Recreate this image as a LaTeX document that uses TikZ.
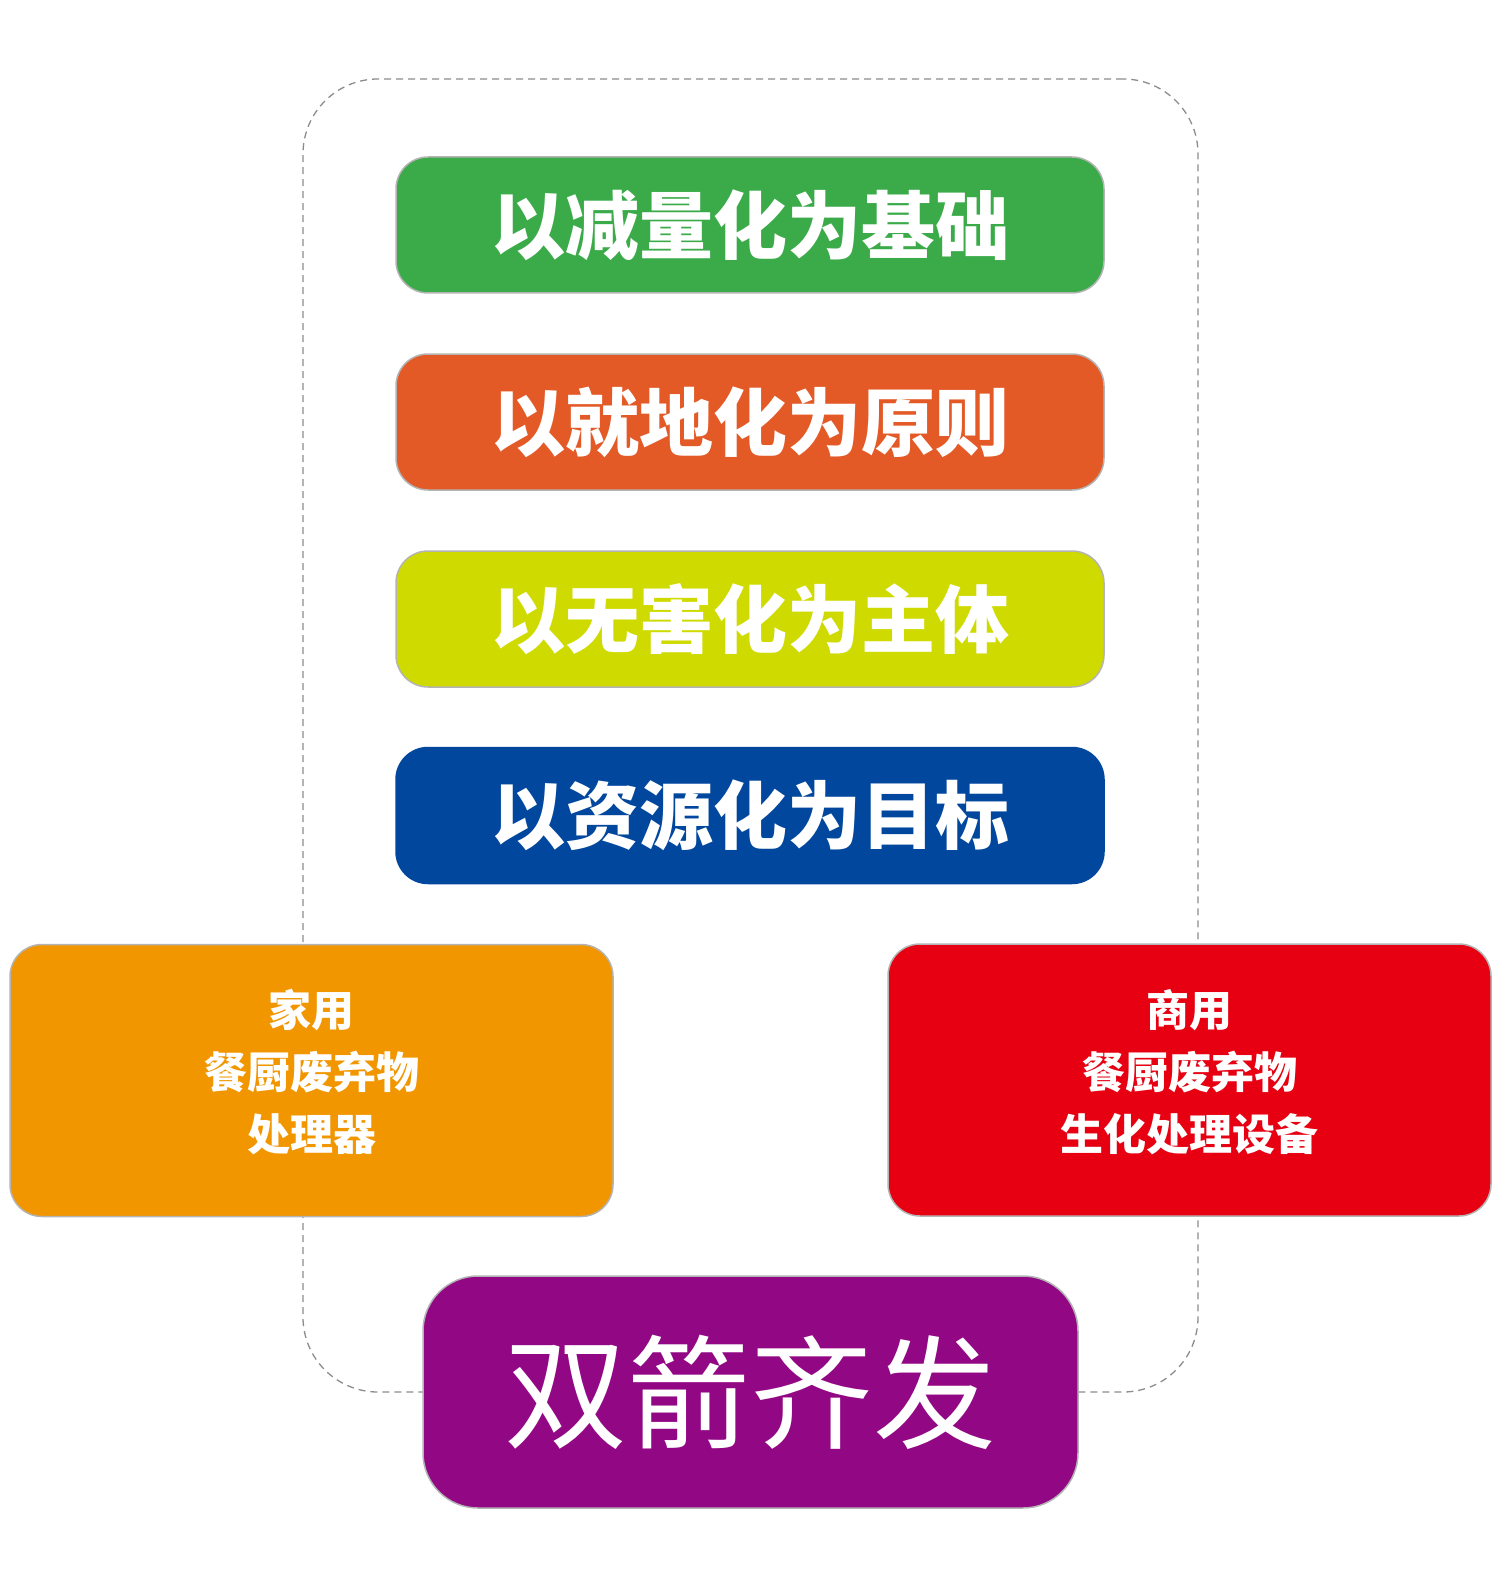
\documentclass[tikz,border=0pt]{standalone}
\usepackage{fontspec}
\newfontfamily\cjk{Noto Sans CJK SC}
\definecolor{cgreen}{HTML}{3BAB4A}
\definecolor{corange}{HTML}{E35A27}
\definecolor{cyellow}{HTML}{CFDB00}
\definecolor{cblue}{HTML}{00479D}
\definecolor{cgold}{HTML}{F29600}
\definecolor{cred}{HTML}{E60012}
\definecolor{cpurple}{HTML}{920783}
\definecolor{cborder}{HTML}{B4B4B4}
\definecolor{cdash}{HTML}{8C8C8C}
\begin{document}
\begin{tikzpicture}[x=1pt,y=-1pt,
  frame/.style={draw=cdash,line width=1.3pt,dash pattern=on 7pt off 5pt,rounded corners=75pt,
    rectangle,minimum width=895pt,minimum height=1313pt,inner sep=0pt},
  bar/.style={rectangle,rounded corners=32pt,draw=cborder,line width=1.5pt,
    minimum width=708pt,minimum height=136pt,inner sep=0pt,text=white,
    font=\cjk\bfseries\fontsize{74}{74}\selectfont},
  side/.style={rectangle,rounded corners=32pt,draw=cborder,line width=1.5pt,
    minimum width=603pt,minimum height=272pt,inner sep=0pt},
  sidetext/.style={inner sep=0pt,text=white,align=center,
    font=\cjk\bfseries\fontsize{43}{62}\selectfont},
  big/.style={rectangle,rounded corners=55pt,draw=cborder,line width=1.5pt,
    minimum width=655pt,minimum height=232pt,inner sep=0pt,text=white,
    font=\cjk\fontsize{123}{123}\selectfont}]
\useasboundingbox (0,0) rectangle (1500,1586);
\node[frame] (fr) at (750.5,735.5) {};
\node[bar,fill=cgreen] (b1) at (750,225) {以减量化为基础};
\node[bar,fill=corange] (b2) at (750,422) {以就地化为原则};
\node[bar,fill=cyellow] (b3) at (750,619) {以无害化为主体};
\node[bar,fill=cblue,draw=cblue] (b4) at (750,815.5) {以资源化为目标};
\node[side,fill=cgold] (home) at (311.5,1080.5) {};
\node[sidetext] (hometxt) at ([yshift=8pt]home.center) {家用\\餐厨废弃物\\处理器};
\node[side,fill=cred] (comm) at (1189.5,1080) {};
\node[sidetext] (commtxt) at ([yshift=8pt]comm.center) {商用\\餐厨废弃物\\生化处理设备};
\node[big,fill=cpurple] (sj) at (750.5,1392) {双箭齐发};
\end{tikzpicture}
\end{document}
